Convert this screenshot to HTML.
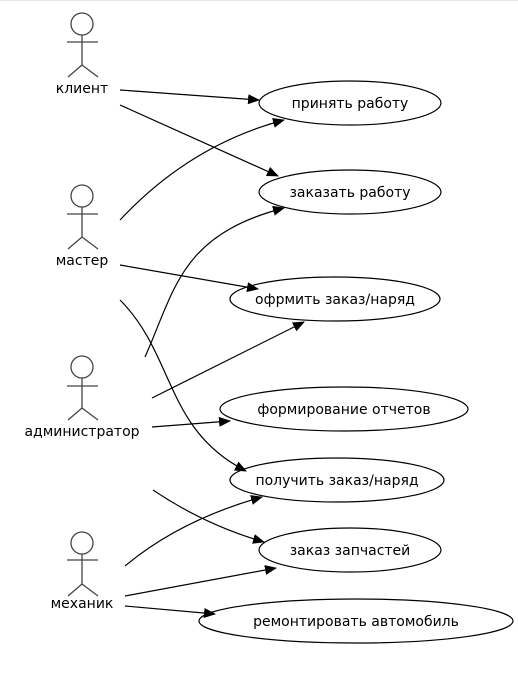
<!DOCTYPE html>
<html><head><meta charset="utf-8">
<style>
html,body{margin:0;padding:0;background:#fff;}
svg{display:block;}
text{font-family:"DejaVu Sans","Liberation Sans",sans-serif;font-size:14px;fill:#000;}
</style></head>
<body>
<svg width="518" height="674" viewBox="0 0 518 674">
<defs>
<marker id="ah" markerWidth="12" markerHeight="10" refX="11" refY="5" orient="auto" markerUnits="userSpaceOnUse">
<path d="M0,0 L12,5 L0,10 z" fill="#000"/>
</marker>
</defs>
<rect x="0" y="0" width="518" height="674" fill="#fff"/>
<line x1="0" y1="0.5" x2="518" y2="0.5" stroke="#e8e8e8"/>

<g stroke="#444" stroke-width="1.3" fill="none">
<g>
<circle cx="82" cy="24" r="11"/><line x1="82" y1="35" x2="82" y2="65"/><line x1="67" y1="42" x2="98" y2="42"/><line x1="82" y1="65" x2="68" y2="77"/><line x1="82" y1="65" x2="98" y2="77"/>
</g>
<g>
<circle cx="82" cy="196" r="11"/><line x1="82" y1="207" x2="82" y2="237"/><line x1="67" y1="214" x2="98" y2="214"/><line x1="82" y1="237" x2="68" y2="249"/><line x1="82" y1="237" x2="98" y2="249"/>
</g>
<g>
<circle cx="82" cy="367" r="11"/><line x1="82" y1="378" x2="82" y2="408"/><line x1="67" y1="386" x2="98" y2="386"/><line x1="82" y1="408" x2="68" y2="420"/><line x1="82" y1="408" x2="98" y2="420"/>
</g>
<g>
<circle cx="82" cy="543" r="11"/><line x1="82" y1="554" x2="82" y2="584"/><line x1="67" y1="560" x2="98" y2="560"/><line x1="82" y1="584" x2="68" y2="596"/><line x1="82" y1="584" x2="98" y2="596"/>
</g>
</g>
<g style="font-size:15px">
<text x="82" y="93" text-anchor="middle">клиент</text>
<text x="82" y="265" text-anchor="middle">мастер</text>
<text x="82" y="436" text-anchor="middle">администратор</text>
<text x="82" y="608" text-anchor="middle">механик</text>
</g>

<g stroke="#000" stroke-width="1.2" fill="#fff">
<ellipse cx="350" cy="103" rx="91" ry="22"/>
<ellipse cx="350" cy="192" rx="91" ry="22"/>
<ellipse cx="335" cy="299" rx="105" ry="22"/>
<ellipse cx="344" cy="409" rx="124" ry="22"/>
<ellipse cx="337" cy="480" rx="107" ry="22"/>
<ellipse cx="350" cy="550" rx="91" ry="22"/>
<ellipse cx="356" cy="621" rx="157" ry="22"/>
</g>
<g text-anchor="middle">
<text x="350" y="108">принять работу</text>
<text x="350" y="197">заказать работу</text>
<text x="335" y="304">офрмить заказ/наряд</text>
<text x="344" y="414">формирование отчетов</text>
<text x="337" y="485">получить заказ/наряд</text>
<text x="350" y="555">заказ запчастей</text>
<text x="356" y="626">ремонтировать автомобиль</text>
</g>

<g stroke="#000" stroke-width="1.2" fill="none" marker-end="url(#ah)">
<path d="M120,90 L259,100"/>
<path d="M120,105 L278,176"/>
<path d="M120,220 Q190,145 284,120"/>
<path d="M120,265 L258,289"/>
<path d="M120,300 C175,355 165,430 246,471"/>
<path d="M145,357 C175,290 180,235 284,208"/>
<path d="M152,398 L304,322"/>
<path d="M152,427 L230,421"/>
<path d="M153,490 Q205,525 264,542"/>
<path d="M125,566 Q180,520 262,497"/>
<path d="M125,596 L276,568"/>
<path d="M125,606 L215,614"/>
</g>
</svg>
</body></html>
